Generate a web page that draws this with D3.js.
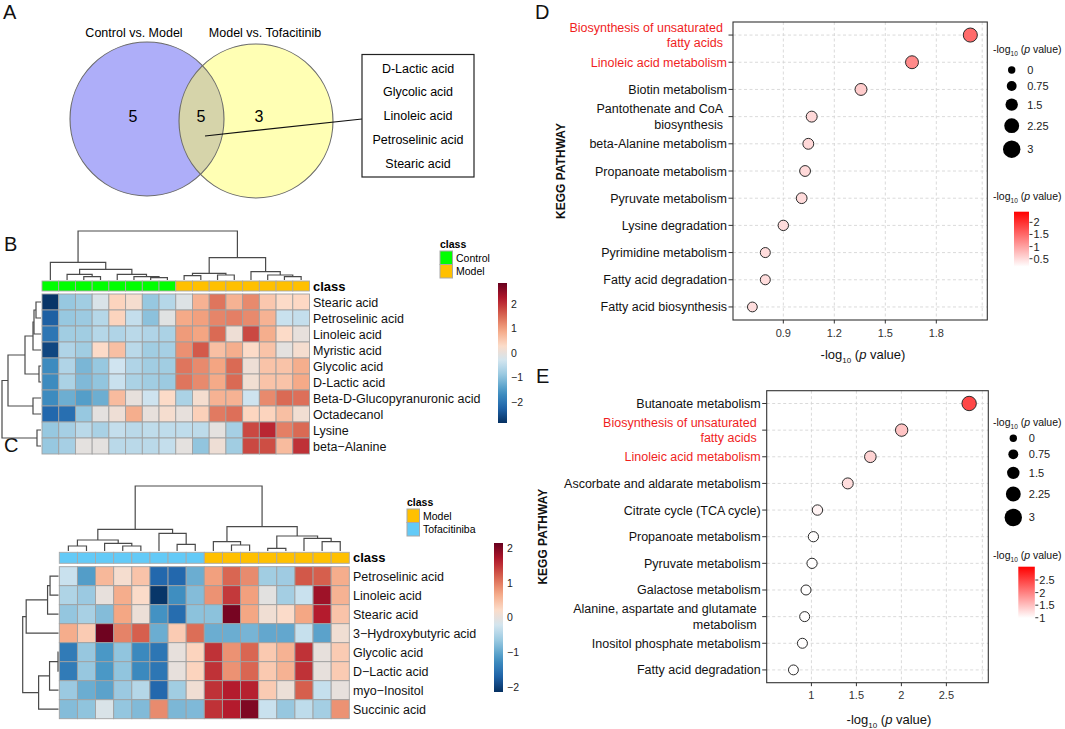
<!DOCTYPE html>
<html><head><meta charset="utf-8">
<script src="https://cdn.jsdelivr.net/npm/d3@7/dist/d3.min.js"></script>
<style>body{margin:0;background:#fff}svg{font-family:"Liberation Sans",Arial,Helvetica,sans-serif}</style>
</head><body><svg id="c" width="1065" height="729"></svg>
<script>
// ---------------- DATA ----------------
const vennSets = ["Control vs. Model", "Model vs. Tofacitinib"];
const vennCounts = [5, 5, 3]; // left only, shared, right only
const sharedMetabolites = ["D-Lactic acid", "Glycolic acid", "Linoleic acid", "Petroselinic acid", "Stearic acid"];

const rowsB = ["Stearic acid","Petroselinic acid","Linoleic acid","Myristic acid","Glycolic acid","D-Lactic acid","Beta-D-Glucopyranuronic acid","Octadecanol","Lysine","beta\u2212Alanine"];
const classB = ["Control","Control","Control","Control","Control","Control","Control","Control","Model","Model","Model","Model","Model","Model","Model","Model"];
const heatB = [
 [-2.8,-0.9,-0.8,-0.2,0.4,0.2,-0.9,-0.6,-0.15,0.8,1.4,0.8,1.2,0.55,0.3,0.35],
 [-2.3,-0.9,-0.85,-0.6,0.4,-0.45,-1.0,-0.1,0.9,1.0,1.25,1.3,1.2,0.8,-0.4,-0.45],
 [-2.0,-0.8,-0.8,-0.6,-0.65,-0.55,-0.65,-0.7,1.05,0.95,1.5,0.1,1.8,0.85,0.3,0.0],
 [-2.6,-0.65,-0.8,0.3,0.65,-0.55,-0.8,-0.75,1.15,1.65,0.65,0.85,0.3,0.6,-0.05,0.2],
 [-1.7,-0.65,-1.15,-0.9,-0.33,-0.65,-0.8,-0.8,1.4,1.2,0.95,1.5,0.1,0.6,0.6,0.85],
 [-1.7,-0.7,-1.1,-0.95,-0.4,-0.7,-0.8,-0.85,1.4,1.2,0.9,1.5,0.15,0.6,0.6,0.9],
 [-1.7,-1.25,-1.45,-1.25,0.7,0.0,-0.35,0.3,-0.7,0.2,0.8,0.8,-0.35,1.2,1.5,1.45],
 [-2.2,-2.1,-0.9,-0.05,0.1,0.85,0.0,0.2,0.0,0.45,1.35,1.45,0.38,0.4,0.65,0.15],
 [-0.9,-0.75,-0.55,-0.72,-0.45,-0.55,-0.5,-0.5,-0.5,-0.52,-0.05,-0.75,1.8,2.1,1.3,1.5],
 [-0.9,-0.75,-0.05,-0.05,-0.55,-0.55,-0.55,-0.45,-0.05,-0.95,0.1,-0.8,1.8,1.75,0.7,2.0]
];
const scaleMaxB = 2.86;
const colTreeB = [49, [17.7, 0, [10.7, [5.7, 1, [3.3, 2, 3]], [5.7, 4, [3.3, 5, [2.3, 6, 7]]]]],
                     [22.3, [6.7, [4.3, 8, 9], [5, 10, 11]], [8.3, 12, [5, 13, [3.3, 14, 15]]]]];
const rowTreeB = [39, [33, [16, [8, [7, [5, 0, 1], 2], 3], [2, 4, 5]], [8, 6, 7]], [4, 8, 9]];

const rowsC = ["Petroselinic acid","Linoleic acid","Stearic acid","3\u2212Hydroxybutyric acid","Glycolic acid","D\u2212Lactic acid","myo\u2212Inositol","Succinic acid"];
const classC = ["Tofacitiniba","Tofacitiniba","Tofacitiniba","Tofacitiniba","Tofacitiniba","Tofacitiniba","Tofacitiniba","Tofacitiniba","Model","Model","Model","Model","Model","Model","Model","Model"];
const heatC = [
 [-0.3,-1.1,0.55,0.15,0.45,-1.65,-1.65,-0.95,0.75,1.15,0.9,-0.6,-0.62,1.25,1.2,0.65],
 [-0.5,-0.65,0.0,0.65,0.22,-2.1,-1.25,-0.8,0.85,1.45,0.75,-0.05,-0.58,-0.3,1.8,0.6],
 [-0.7,-0.55,-0.8,0.7,0.05,-1.2,-1.6,-0.75,-0.75,2.05,0.7,0.1,0.22,0.7,1.65,0.45],
 [0.65,0.38,2.1,0.95,1.2,-0.95,0.38,1.1,-0.95,-0.95,-0.88,-1.0,-1.0,-0.32,-1.05,0.1],
 [-1.45,-0.68,-1.15,-0.72,-1.3,-1.5,0.0,0.3,1.5,0.85,1.15,0.4,0.6,1.5,0.0,0.38],
 [-1.45,-0.68,-1.15,-0.72,-1.3,-1.5,0.0,0.3,1.5,0.85,1.15,0.4,0.6,1.5,0.0,0.38],
 [-0.65,-0.95,-1.05,-0.65,-0.45,-1.65,-0.6,0.1,1.5,1.65,1.62,0.38,0.05,1.2,-0.33,0.0],
 [-0.8,-0.73,-0.15,-0.7,-0.82,0.9,-0.85,-0.83,1.5,1.65,2.0,-0.3,-0.68,-0.38,-0.58,0.85]
];
const scaleMaxC = 2.15;
const colTreeC = [65, [21.7, [11, [5, 0, 1], [7.7, 2, [5, 3, 4]]], [17.7, 5, [6.7, 6, 7]]],
                     [24.3, [9.3, 8, [6, 9, 10]], [15, [2.7, 11, 12], [12.7, 13, [9.3, 14, 15]]]]];
const rowTreeC = [36, [32.5, [11, [8.5, 0, 1], 2], 3], [20, [9, [0.5, 4, 5], 6], 7]];

const classColors = {Control: "#00FF00", Model: "#FFC000", Tofacitiniba: "#63CAF7"};
const heatTicks = [-2, -1, 0, 1, 2];

const pathD = ["Biosynthesis of unsaturated\nfatty acids","Linoleic acid metabolism","Biotin metabolism","Pantothenate and CoA\nbiosynthesis","beta-Alanine metabolism","Propanoate metabolism","Pyruvate metabolism","Lysine degradation","Pyrimidine metabolism","Fatty acid degradation","Fatty acid biosynthesis"];
const redD = [true, true, false, false, false, false, false, false, false, false, false];
const xD = [2.0, 1.657, 1.357, 1.067, 1.047, 1.028, 1.008, 0.90, 0.794, 0.794, 0.718];
const sizeD = [2.0, 1.657, 1.357, 1.067, 1.047, 1.028, 1.008, 0.90, 0.794, 0.794, 0.718];
const colD = [1.49, 1.21, 0.62, 0.52, 0.52, 0.51, 0.49, 0.48, 0.48, 0.48, 0.47];
const xTicksD = [0.9, 1.2, 1.5, 1.8];
const gridXD = [0.9, 1.2, 1.5, 1.8, 2.07];
const cbarTicksD = [0.5, 1, 1.5, 2];

const pathE = ["Butanoate metabolism","Biosynthesis of unsaturated\nfatty acids","Linoleic acid metabolism","Ascorbate and aldarate metabolism","Citrate cycle (TCA cycle)","Propanoate metabolism","Pyruvate metabolism","Galactose metabolism","Alanine, aspartate and glutamate\nmetabolism","Inositol phosphate metabolism","Fatty acid degradation"];
const redE = [false, true, true, false, false, false, false, false, false, false, false];
const xE = [2.753, 2.003, 1.655, 1.404, 1.067, 1.022, 1.007, 0.94, 0.925, 0.90, 0.80];
const sizeE = [2.1, 1.5, 1.26, 1.08, 0.9, 0.85, 0.85, 0.78, 0.78, 0.78, 0.75];
const colE = [2.46, 1.46, 1.34, 1.26, 1.09, 1.0, 1.0, 1.0, 1.0, 1.0, 1.0];
const xTicksE = [1, 1.5, 2, 2.5];
const gridXE = [1, 1.5, 2, 2.5, 2.9];
const cbarTicksE = [1, 1.5, 2, 2.5];

const sizeLegend = [0, 0.75, 1.5, 2.25, 3];

// ---------------- DRAW ----------------
const svg = d3.select("#c");
const rdbu = ["#053061","#2166AC","#4393C3","#92C5DE","#D1E5F0","#FDDBC7","#F4A582","#D6604D","#B2182B","#67001F"];
const defs = svg.append("defs");

// panel letters
[["A",3,19],["B",4,251],["C",4,452],["D",535,19],["E",536,383]].forEach(([t,x,y]) =>
  svg.append("text").attr("x",x).attr("y",y).attr("font-size",20).attr("fill","#111").text(t));

// ---- Venn (A) ----
(function venn(){
  const g = svg.append("g");
  const c1 = {x:147, y:119, r:77}, c2 = {x:256, y:121, r:77};
  defs.append("clipPath").attr("id","clipL").append("circle").attr("cx",c1.x).attr("cy",c1.y).attr("r",c1.r);
  g.append("circle").attr("cx",c1.x).attr("cy",c1.y).attr("r",c1.r).attr("fill","#AEAEF9");
  g.append("circle").attr("cx",c2.x).attr("cy",c2.y).attr("r",c2.r).attr("fill","#FFFFB4");
  g.append("circle").attr("cx",c2.x).attr("cy",c2.y).attr("r",c2.r).attr("fill","#D6D4AA").attr("clip-path","url(#clipL)");
  [c1,c2].forEach(c => g.append("circle").attr("cx",c.x).attr("cy",c.y).attr("r",c.r).attr("fill","none").attr("stroke","#6a6a6a").attr("stroke-width",1.1));
  g.append("text").attr("x",134).attr("y",36.5).attr("text-anchor","middle").attr("font-size",12.5).text(vennSets[0]);
  g.append("text").attr("x",265).attr("y",36.5).attr("text-anchor","middle").attr("font-size",12.5).text(vennSets[1]);
  [[133],[201],[259]].forEach(([x],i)=> g.append("text").attr("x",x).attr("y",122).attr("text-anchor","middle").attr("font-size",16).text(vennCounts[i]));
  g.append("line").attr("x1",205).attr("y1",136).attr("x2",362).attr("y2",119).attr("stroke","#111").attr("stroke-width",1.2);
  g.append("rect").attr("x",362).attr("y",54.5).attr("width",112).attr("height",122.5).attr("fill","#fff").attr("stroke","#222").attr("stroke-width",1.2);
  const yb = d3.scalePoint().domain(sharedMetabolites).range([68,163]);
  sharedMetabolites.forEach(m => g.append("text").attr("x",418).attr("y",yb(m)+4.5).attr("text-anchor","middle").attr("font-size",12.5).text(m));
})();

// ---- heatmaps ----
function drawTree(g, tree, leafPos, hToPix, vertical){
  const segs = [];
  function rec(node){
    if (typeof node === "number") return {p: leafPos(node), h: 0};
    const [h, a, b] = node;
    const A = rec(a), B = rec(b);
    segs.push({A, B, h});
    return {p: (A.p + B.p)/2, h};
  }
  rec(tree);
  g.selectAll(null).data(segs).join("path")
    .attr("d", s => vertical
      ? `M${s.A.p},${hToPix(s.A.h)}V${hToPix(s.h)}H${s.B.p}V${hToPix(s.B.h)}`
      : `M${hToPix(s.A.h)},${s.A.p}H${hToPix(s.h)}V${s.B.p}H${hToPix(s.B.h)}`)
    .attr("fill","none").attr("stroke","#4a4a4a").attr("stroke-width",1.2);
}

function heatmap(o){
  const g = svg.append("g");
  const nCol = o.values[0].length;
  const x = d3.scaleBand().domain(d3.range(nCol)).range([o.x0, o.x1]);
  const y = d3.scaleBand().domain(d3.range(o.rows.length)).range([o.y0, o.y0 + o.rowH*o.rows.length]);
  const color = d3.scaleSequential(d3.piecewise(d3.interpolateRgb, rdbu)).domain([-o.vmax, o.vmax]);
  g.selectAll(null).data(o.classes).join("rect")
    .attr("x",(d,i)=>x(i)).attr("y",o.barY).attr("width",x.bandwidth()).attr("height",o.barH)
    .attr("fill",d=>classColors[d]).attr("stroke","#a8a8a8").attr("stroke-width",0.9);
  o.values.forEach((row,r) => {
    g.selectAll(null).data(row).join("rect")
      .attr("x",(d,i)=>x(i)).attr("y",y(r)).attr("width",x.bandwidth()).attr("height",y.bandwidth())
      .attr("fill",d=>color(d)).attr("stroke","#a0a0a0").attr("stroke-width",0.9);
  });
  g.append("text").attr("x",o.labelX).attr("y",o.barY+o.barH/2).attr("dy","0.36em").attr("font-size",13).attr("font-weight","bold").text("class");
  g.selectAll(null).data(o.rows).join("text")
    .attr("x",o.labelX).attr("y",(d,i)=>y(i)+y.bandwidth()/2).attr("dy","0.36em").attr("font-size",12.5).attr("fill","#111").text(d=>d);
  const cH = d3.scaleLinear().domain([0, o.colTree[0]]).range([o.colBase, o.colTop]);
  drawTree(g, o.colTree, i => x(i)+x.bandwidth()/2, cH, true);
  const rH = d3.scaleLinear().domain([0, o.rowTree[0]]).range([o.rowBase, o.rowLeft]);
  drawTree(g, o.rowTree, i => y(i)+y.bandwidth()/2, rH, false);
  const lg = g.append("g");
  lg.append("text").attr("x",o.legX).attr("y",o.legY).attr("font-size",10.5).attr("font-weight","bold").text("class");
  o.legOrder.forEach((k,i)=>{
    lg.append("rect").attr("x",o.legX).attr("y",o.legY+3+i*13.5).attr("width",12.5).attr("height",13.5).attr("fill",classColors[k]).attr("stroke","#a8a8a8");
    lg.append("text").attr("x",o.legX+16).attr("y",o.legY+3+i*13.5+6.75).attr("dy","0.36em").attr("font-size",10.5).text(k);
  });
  const gid = "grad"+o.id;
  const grad = defs.append("linearGradient").attr("id",gid).attr("x1",0).attr("y1",1).attr("x2",0).attr("y2",0);
  d3.range(0,1.0001,0.05).forEach(t => grad.append("stop").attr("offset",t).attr("stop-color",color(-o.vmax + t*2*o.vmax)));
  g.append("rect").attr("x",o.cbX).attr("y",o.cbY0).attr("width",9).attr("height",o.cbY1-o.cbY0).attr("fill",`url(#${gid})`);
  const cb = d3.scaleLinear().domain([-o.vmax,o.vmax]).range([o.cbY1,o.cbY0]);
  g.selectAll(null).data(heatTicks).join("text")
    .attr("x",o.cbX+13).attr("y",d=>cb(d)).attr("dy","0.36em").attr("font-size",10.5).attr("fill","#222")
    .text(d=> d<0 ? "\u2212"+Math.abs(d) : d);
}

heatmap({id:"B", values:heatB, rows:rowsB, classes:classB, vmax:scaleMaxB,
  x0:42, x1:309.5, y0:294, rowH:16, barY:281, barH:10, labelX:313,
  colTree:colTreeB, colBase:280, colTop:231, rowTree:rowTreeB, rowBase:41, rowLeft:2,
  legX:440, legY:248, legOrder:["Control","Model"], cbX:498, cbY0:283, cbY1:423});
heatmap({id:"C", values:heatC, rows:rowsC, classes:classC, vmax:scaleMaxC,
  x0:59.3, x1:349.3, y0:566.7, rowH:19, barY:552.3, barH:11, labelX:353,
  colTree:colTreeC, colBase:551, colTop:486, rowTree:rowTreeC, rowBase:58.5, rowLeft:22.7,
  legX:407, legY:506, legOrder:["Model","Tofacitiniba"], cbX:494, cbY0:543, cbY1:692});

// ---- dot plots ----
function logTitle(sel, x, y, size, anchor){
  const t = sel.append("text").attr("x",x).attr("y",y).attr("font-size",size).attr("text-anchor",anchor||"start").attr("fill","#111");
  t.append("tspan").text("-log");
  t.append("tspan").attr("font-size",size*0.62).attr("dy",size*0.28).text("10");
  t.append("tspan").attr("dy",-size*0.28).text(" (");
  t.append("tspan").attr("font-style","italic").text("p");
  t.append("tspan").text(" value)");
}
const rScale = d3.scaleLinear().domain([0,3]).range([3.7,8.7]);

function dotPlot(o){
  const g = svg.append("g");
  const x = d3.scaleLinear().domain(o.xDomain).range([o.left,o.right]);
  const y = d3.scalePoint().domain(o.names).range([o.top,o.bottom]).padding(0.48);
  const col = d3.scaleLinear().domain(o.cDomain).range(["#ffffff","#ff0000"]);
  g.selectAll(null).data(o.gridX).join("line")
    .attr("x1",d=>x(d)).attr("x2",d=>x(d)).attr("y1",o.top).attr("y2",o.bottom)
    .attr("stroke","#d6d6d6").attr("stroke-width",0.9).attr("stroke-dasharray","3,2.5");
  g.selectAll(null).data(o.names).join("line")
    .attr("x1",o.left).attr("x2",o.right).attr("y1",d=>y(d)).attr("y2",d=>y(d))
    .attr("stroke","#d6d6d6").attr("stroke-width",0.9).attr("stroke-dasharray","3,2.5");
  g.append("rect").attr("x",o.left).attr("y",o.top).attr("width",o.right-o.left).attr("height",o.bottom-o.top)
    .attr("fill","none").attr("stroke","#333").attr("stroke-width",1.1);
  o.names.forEach((n,i)=>{
    const yy = y(n);
    g.append("line").attr("x1",o.left-4.5).attr("x2",o.left).attr("y1",yy).attr("y2",yy).attr("stroke","#333");
    const lines = n.split("\n");
    const t = g.append("text").attr("text-anchor","end").attr("font-size",12.5).attr("fill",o.red[i]?"#F01E1E":"#111");
    const xx = lines.length>1 ? o.left-10 : o.left-6;
    lines.forEach((l,k)=> t.append("tspan").attr("x",xx).attr("y",yy + (k-(lines.length-1)/2)*15.5).attr("dy","0.36em").text(l));
  });
  g.selectAll(null).data(o.xTicks).join("line")
    .attr("x1",d=>x(d)).attr("x2",d=>x(d)).attr("y1",o.bottom).attr("y2",o.bottom+3.5).attr("stroke","#333");
  g.selectAll(null).data(o.xTicks).join("text")
    .attr("x",d=>x(d)).attr("y",o.bottom+16.5).attr("text-anchor","middle").attr("font-size",11).attr("fill","#333").text(d=>d);
  logTitle(g, o.xTitleX, o.xTitleY, 13, "middle");
  g.append("text").attr("transform",`translate(${o.yTitleX},${(o.top+o.bottom)/2}) rotate(-90)`)
    .attr("text-anchor","middle").attr("font-size",12).attr("font-weight","bold").attr("fill","#111").text("KEGG PATHWAY");
  g.selectAll(null).data(o.names).join("circle")
    .attr("cx",(d,i)=>x(o.xv[i])).attr("cy",d=>y(d)).attr("r",(d,i)=>rScale(o.sv[i]))
    .attr("fill",(d,i)=>col(o.cv[i])).attr("stroke","#2a2a2a").attr("stroke-width",1);
  logTitle(g, o.legX, o.sizeTitleY, 10.5, "start");
  let yy = o.sizeY0;
  sizeLegend.forEach((v,i)=>{
    if (i>0) yy += rScale(sizeLegend[i-1]) + rScale(v) + 7.4;
    g.append("circle").attr("cx",o.dotX).attr("cy",yy).attr("r",rScale(v)).attr("fill","#000");
    g.append("text").attr("x",o.dotX+15.5).attr("y",yy).attr("dy","0.36em").attr("font-size",11).attr("fill","#222").text(v);
  });
  logTitle(g, o.legX, o.colTitleY, 10.5, "start");
  const gid = "cg"+o.id;
  const grad = defs.append("linearGradient").attr("id",gid).attr("x1",0).attr("y1",1).attr("x2",0).attr("y2",0);
  grad.append("stop").attr("offset",0).attr("stop-color","#ffffff");
  grad.append("stop").attr("offset",1).attr("stop-color","#ff0000");
  g.append("rect").attr("x",o.cbX).attr("y",o.cbY0).attr("width",o.cbW).attr("height",o.cbY1-o.cbY0).attr("fill",`url(#${gid})`);
  const cb = d3.scaleLinear().domain(o.cDomain).range([o.cbY1,o.cbY0]);
  o.cbTicks.forEach(v=>{
    g.append("line").attr("x1",o.cbX+o.cbW+0.5).attr("x2",o.cbX+o.cbW+3.5).attr("y1",cb(v)).attr("y2",cb(v)).attr("stroke","#333");
    g.append("text").attr("x",o.cbX+o.cbW+4.5).attr("y",cb(v)).attr("dy","0.36em").attr("font-size",11).attr("fill","#222").text(v);
  });
}

dotPlot({id:"D", names:pathD, red:redD, xv:xD, sv:sizeD, cv:colD, cDomain:[0.17,2.44],
  left:733, right:987.3, top:22, bottom:320, xDomain:[0.604,2.1], xTicks:xTicksD, gridX:gridXD,
  xTitleX:863, xTitleY:359, yTitleX:565,
  legX:993, sizeTitleY:53, dotX:1011.7, sizeY0:70, colTitleY:200,
  cbX:1014, cbW:15, cbY0:211.7, cbY1:266.7, cbTicks:cbarTicksD});
dotPlot({id:"E", names:pathE, red:redE, xv:xE, sv:sizeE, cv:colE, cDomain:[0.99,3.03],
  left:766.7, right:988.3, top:390.7, bottom:682.7, xDomain:[0.503,2.966], xTicks:xTicksE, gridX:gridXE,
  xTitleX:889, xTitleY:724, yTitleX:547,
  legX:993, sizeTitleY:426, dotX:1013.3, sizeY0:438.3, colTitleY:559,
  cbX:1018.3, cbW:16.5, cbY0:566.7, cbY1:618, cbTicks:cbarTicksE});
</script></body></html>
